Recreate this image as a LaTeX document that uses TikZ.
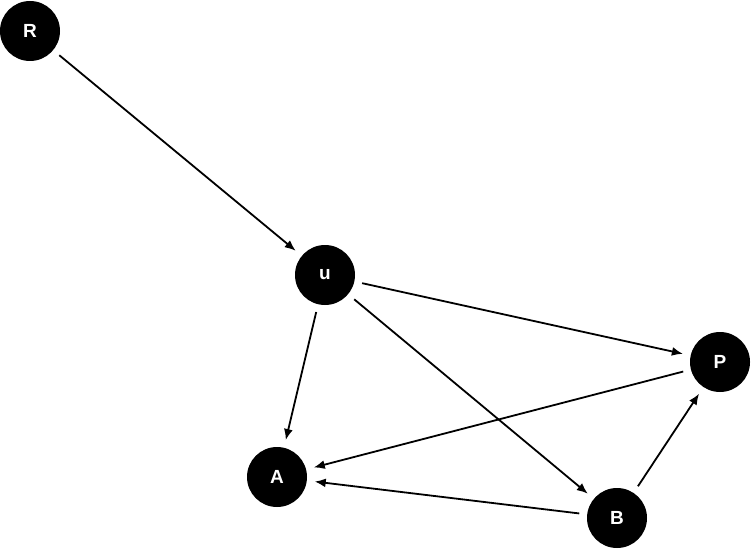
\documentclass[tikz,border=0pt]{standalone}
\usepackage{fontspec}
\setmainfont{Liberation Sans}
\usetikzlibrary{arrows.meta}
\begin{document}
\begin{tikzpicture}[x=1pt,y=-1pt,
  vnode/.style={circle,fill=black,minimum size=60pt,inner sep=0pt,outer sep=8pt,text=white,font=\fontsize{19}{19}\selectfont\bfseries},
  edge/.style={-{Latex[length=11pt,width=9pt]},line width=1.8pt}]
\useasboundingbox (0,0) rectangle (751,548);
\node[vnode] (R) at (30,31) {R};
\node[vnode] (u) at (325,275) {u};
\node[vnode] (P) at (720,362) {P};
\node[vnode] (A) at (277,477) {A};
\node[vnode] (B) at (617,518) {B};
\draw[edge] (R) -- (u);
\draw[edge] (u) -- (P);
\draw[edge] (u) -- (A);
\draw[edge] (u) -- (B);
\draw[edge] (P) -- (A);
\draw[edge] (B) -- (A);
\draw[edge] (B) -- (P);
\end{tikzpicture}
\end{document}
